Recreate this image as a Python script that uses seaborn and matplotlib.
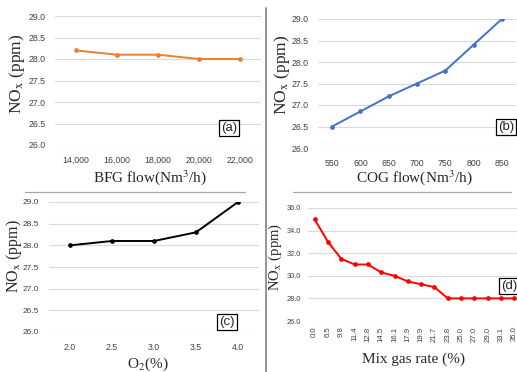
import numpy as np
import pandas as pd
import matplotlib
matplotlib.use("Agg")
import matplotlib.pyplot as plt
from matplotlib.lines import Line2D
import seaborn as sns

# data
bfg_flow = ["14,000", "16,000", "18,000", "20,000", "22,000"]
nox_bfg = [28.2, 28.1, 28.1, 28.0, 28.0]

cog_flow = ["550", "600", "650", "700", "750", "800", "850"]
nox_cog = [26.5, 26.85, 27.2, 27.5, 27.8, 28.4, 29.0]

o2_pct = ["2.0", "2.5", "3.0", "3.5", "4.0"]
nox_o2 = [28.0, 28.1, 28.1, 28.3, 29.0]

mix_rate = ["0.0", "6.5", "9.8", "11.4", "12.8", "14.5", "16.1", "17.9",
            "19.9", "21.7", "23.8", "25.0", "27.0", "29.0", "33.1", "35.0"]
nox_mix = [35.0, 33.0, 31.5, 31.0, 31.0, 30.3, 30.0, 29.5,
           29.25, 29.0, 28.0, 28.0, 28.0, 28.0, 28.0, 28.0]

sns.set_theme(style="white")
plt.rcParams["mathtext.fontset"] = "stix"

W, H = 517, 372
fig = plt.figure(figsize=(W / 100, H / 100), dpi=100)


def px_axes(x0, x1, ytop, ybot):
    return fig.add_axes([x0 / W, 1 - ybot / H, (x1 - x0) / W, (ybot - ytop) / H])


def panel(ax, labels, values, color, yticks, tick_size=6.3, ytick_size=6.3,
          rot=0, ypad=7):
    pos = np.arange(len(labels))
    df = pd.DataFrame({"x": pos, "y": values})
    sns.lineplot(data=df, x="x", y="y", ax=ax, color=color, marker="o",
                 markersize=3.4, markeredgewidth=0, linewidth=1.4)
    ax.set_xlim(-0.5, len(labels) - 0.5)
    ax.set_ylim(yticks[0], yticks[-1])
    ax.set_yticks(yticks)
    ax.set_yticklabels([f"{v:.1f}" for v in yticks], fontsize=ytick_size,
                       color="#404040", family="Liberation Sans")
    ax.set_xticks(pos)
    ax.set_xticklabels(labels, fontsize=tick_size, color="#404040",
                       family="Liberation Sans", rotation=rot)
    ax.grid(axis="y", color="#d9d9d9", linewidth=0.8)
    ax.set_axisbelow(True)
    for s in ax.spines.values():
        s.set_visible(False)
    ax.tick_params(axis="y", length=0, pad=ypad)
    ax.tick_params(axis="x", length=0, pad=8 if rot == 0 else 4)
    ax.set_xlabel("")
    ax.set_ylabel("")


ax_a = px_axes(55, 261, 16, 145)
panel(ax_a, bfg_flow, nox_bfg, "#ED7D31", np.arange(26.0, 29.01, 0.5))
ax_b = px_axes(318, 516, 19, 148)
panel(ax_b, cog_flow, nox_cog, "#4472C4", np.arange(26.0, 29.01, 0.5))
ax_c = px_axes(49, 259, 202, 332)
panel(ax_c, o2_pct, nox_o2, "#000000", np.arange(26.0, 29.01, 0.5),
      ytick_size=6.0)
ax_d = px_axes(308, 521, 208, 321)
panel(ax_d, mix_rate, nox_mix, "#FF0000", np.arange(26.0, 36.01, 2.0),
      tick_size=5.6, ytick_size=5.3, rot=90, ypad=5)

# y labels
ylab = r"NO$_\mathrm{x}$ (ppm)"
for x, y, fs in [(17, 74, 12.5), (282, 75, 12.5), (14, 256, 11.5), (275, 257, 10.5)]:
    fig.text(x / W, 1 - y / H, ylab, rotation=90, ha="center", va="center",
             fontsize=fs, family="Liberation Serif")

# x labels
for x, y, t in [(150, 178, r"BFG flow(Nm$^3$/h)"), (414, 178, r"COG flow(Nm$^3$/h)"),
                (148, 364, r"O$_2$(%)"), (413, 359, "Mix gas rate (%)")]:
    fig.text(x / W, 1 - y / H, t, ha="center", va="center",
             fontsize=11, family="Liberation Serif")

# panel tags
for x, y, t in [(229, 128, "(a)"), (506, 127, "(b)"), (227, 322, "(c)"), (509, 286, "(d)")]:
    fig.text(x / W, 1 - y / H, t, ha="center", va="center", fontsize=9.5,
             family="Liberation Sans",
             bbox=dict(boxstyle="square,pad=0.15", fc="white", ec="black", lw=0.9))

# separators from the collage
fig.add_artist(Line2D([265.5 / W, 265.5 / W], [1 - 8 / H, 0], color="#8c8c8c", lw=1.3))
fig.add_artist(Line2D([25 / W, 245 / W], [1 - 192 / H] * 2, color="#a6a6a6", lw=0.9))
fig.add_artist(Line2D([293 / W, 511 / W], [1 - 192 / H] * 2, color="#a6a6a6", lw=0.9))

fig.savefig("out.png", dpi=100)
